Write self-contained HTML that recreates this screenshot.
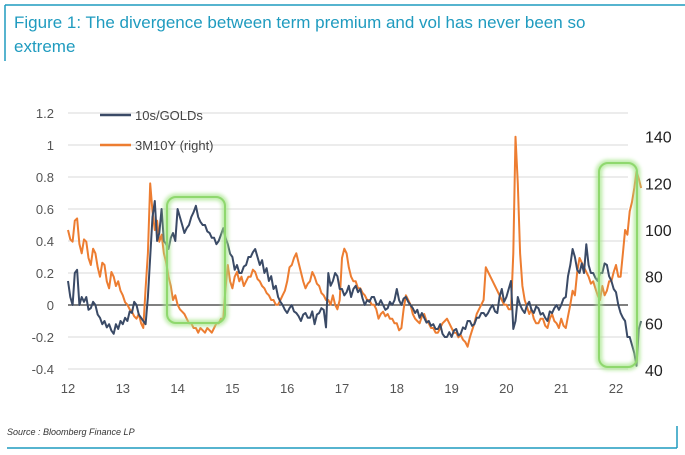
<!DOCTYPE html>
<html><head><meta charset="utf-8"><style>
body{margin:0;background:#fff;}
svg{display:block;font-family:"Liberation Sans",sans-serif;}
</style></head><body>
<svg width="685" height="455" viewBox="0 0 685 455">
<defs><filter id="glow" x="-30%" y="-30%" width="160%" height="160%"><feGaussianBlur stdDeviation="1.8"/></filter></defs>
<line x1="5" y1="5" x2="685" y2="5" stroke="#1f9bbf" stroke-width="1.5"/>
<line x1="5" y1="5" x2="5" y2="61" stroke="#1f9bbf" stroke-width="1.5"/>
<text x="14" y="28" font-size="17" fill="#1f9bbf">Figure 1: The divergence between term premium and vol has never been so</text>
<text x="14" y="52" font-size="17" fill="#1f9bbf">extreme</text>
<g id="grid"></g>
<g id="axes"></g>
<g id="series"></g>
<g>
<rect x="167" y="197" width="58" height="126" rx="9" fill="none" stroke="#a6e58a" stroke-width="7" opacity="0.7" filter="url(#glow)"/>
<rect x="167" y="197" width="58" height="126" rx="9" fill="none" stroke="#8fd86e" stroke-width="2"/>
</g>
<g>
<rect x="599" y="163" width="38" height="204" rx="9" fill="none" stroke="#a6e58a" stroke-width="7" opacity="0.7" filter="url(#glow)"/>
<rect x="599" y="163" width="38" height="204" rx="9" fill="none" stroke="#8fd86e" stroke-width="2"/>
</g>
<g>
<line x1="100" y1="115" x2="131" y2="115" stroke="#3a4a66" stroke-width="2.5"/>
<text x="135" y="120" font-size="13" fill="#444">10s/GOLDs</text>
<line x1="100" y1="145" x2="131" y2="145" stroke="#ed7d31" stroke-width="2.5"/>
<text x="135" y="150" font-size="13" fill="#444">3M10Y (right)</text>
</g>
<line x1="7" y1="448" x2="677" y2="448" stroke="#1f9bbf" stroke-width="1.5"/>
<line x1="677" y1="426" x2="677" y2="448" stroke="#1f9bbf" stroke-width="1.5"/>
<text x="7" y="435" font-size="9" font-style="italic" fill="#333">Source : Bloomberg Finance LP</text>
</svg>
<script>
const leftTicks=[1.2,1,0.8,0.6,0.4,0.2,0,-0.2,-0.4];
const leftTickLabels=["1.2","1","0.8","0.6","0.4","0.2","0","-0.2","-0.4"];
const rightTicks=[140,120,100,80,60,40];
const xTicks=[12,13,14,15,16,17,18,19,20,21,22];
const startYear=12;
const goldsValues=[0.15,0.05,0.0,0.2,0.22,0.0,0.05,0.02,0.05,-0.03,-0.02,0.02,0.0,-0.06,-0.08,-0.12,-0.1,-0.14,-0.12,-0.16,-0.18,-0.12,-0.15,-0.1,
-0.12,-0.08,-0.1,-0.04,-0.05,0.02,0.0,-0.06,-0.08,-0.1,-0.12,0.05,0.3,0.55,0.65,0.4,0.45,0.6,0.4,0.38,0.35,0.42,0.45,0.4,
0.6,0.55,0.5,0.45,0.48,0.5,0.55,0.58,0.62,0.55,0.52,0.5,0.5,0.46,0.45,0.42,0.42,0.38,0.4,0.44,0.48,0.42,0.38,0.32,
0.3,0.22,0.25,0.2,0.2,0.24,0.25,0.3,0.3,0.33,0.35,0.3,0.25,0.28,0.2,0.23,0.15,0.18,0.1,0.12,0.05,0.02,0.0,-0.03,
-0.05,-0.02,0.0,-0.04,-0.05,-0.07,-0.1,-0.06,-0.05,-0.08,-0.08,-0.04,-0.12,-0.06,-0.05,-0.02,-0.03,-0.14,0.2,0.12,0.15,0.2,0.18,0.1,
0.1,0.06,0.08,0.12,0.05,0.1,0.12,0.08,0.1,0.04,0.0,0.03,0.02,0.05,0.05,0.01,0.0,0.03,0.0,-0.03,-0.02,0.02,0.0,0.03,
0.1,0.03,0.0,0.04,0.05,0.02,0.0,-0.02,-0.05,-0.03,-0.08,-0.05,-0.08,-0.11,-0.1,-0.13,-0.12,-0.15,-0.15,-0.12,-0.18,-0.2,-0.2,-0.17,
-0.2,-0.16,-0.15,-0.19,-0.18,-0.14,-0.15,-0.1,-0.1,-0.13,-0.12,-0.08,-0.08,-0.05,-0.05,-0.07,-0.05,-0.02,0.0,-0.04,-0.05,0.05,0.1,0.02,
0.05,0.1,0.15,-0.15,-0.1,0.05,0.0,-0.03,-0.05,0.0,0.02,-0.03,-0.05,-0.01,-0.02,-0.06,-0.05,-0.08,-0.1,-0.04,-0.05,-0.02,0.0,-0.03,
0.0,0.04,0.05,0.18,0.25,0.35,0.3,0.22,0.2,0.26,0.2,0.38,0.25,0.2,0.2,0.17,0.15,0.2,0.2,0.26,0.25,0.18,0.15,0.1,
0.08,0.0,-0.05,-0.08,-0.1,-0.2,-0.2,-0.25,-0.3,-0.38,-0.15,-0.1];
const m3m10yValues=[100,96,95,104,105,94,90,96,95,88,85,92,90,84,80,86,85,78,75,82,80,76,78,74,
72,69,68,66,65,63,62,64,60,58,75,90,120,108,100,104,95,98,90,86,80,76,70,72,
68,66,65,64,62,60,60,58,58,56,58,57,56,58,57,56,58,60,60,62,62,75,85,78,
75,80,82,78,80,76,78,80,80,83,82,79,78,76,75,73,72,70,70,68,68,70,72,74,
78,84,85,88,90,86,82,78,75,77,78,82,80,77,76,73,72,70,70,68,72,68,66,70,
88,92,90,84,80,78,78,75,75,73,72,70,70,68,68,66,62,64,65,63,64,62,62,60,
60,57,58,66,72,70,68,64,62,61,60,63,64,61,60,58,58,56,56,58,60,61,62,60,
58,56,56,54,55,53,52,50,54,57,60,64,66,68,70,84,82,80,78,76,74,72,70,68,
68,66,66,90,140,120,90,76,70,67,64,66,62,60,60,62,62,59,58,62,64,61,60,58,
62,59,58,63,68,74,72,82,88,86,84,82,80,77,78,75,72,70,76,72,74,78,78,82,
85,80,80,90,100,98,108,112,118,125,122,118];
const X=t=>68+(t-12)*54.8;
const YL=v=>305-v*160;
const YR=v=>370-(v-40)*2.333;
const NS="http://www.w3.org/2000/svg";
function mk(tag,attrs,parent,txt){const e=document.createElementNS(NS,tag);for(const k in attrs)e.setAttribute(k,attrs[k]);if(txt!==undefined)e.textContent=txt;parent.appendChild(e);return e;}
const grid=document.getElementById('grid'),axes=document.getElementById('axes'),ser=document.getElementById('series');
leftTicks.forEach((v,i)=>{
 const g=mk('line',{x1:68,x2:628,y1:YL(v),y2:YL(v),stroke:v===0?'#000':'#d9d9d9','stroke-width':1},grid);
 
 
 const t=mk('text',{x:54,y:YL(v)+5,'font-size':13,fill:'#555','text-anchor':'end'},axes,leftTickLabels[i]);
 
 
});
rightTicks.forEach(v=>{
 const t=mk('text',{x:645,y:YR(v)+6,'font-size':16,fill:'#222'},axes,String(v));
 
 
});
xTicks.forEach(v=>{
 const t=mk('text',{x:X(v),y:393,'font-size':13,fill:'#555','text-anchor':'middle'},axes,String(v));
 
 
});
function path(vals,yf){return vals.map((v,i)=>(i?'L':'M')+X(startYear+i/24).toFixed(1)+','+yf(v).toFixed(1)).join('');}
const p2=mk('path',{d:path(m3m10yValues,YR),fill:'none',stroke:'#ed7d31','stroke-width':2,'stroke-linejoin':'round'},ser);


const p1=mk('path',{d:path(goldsValues,YL),fill:'none',stroke:'#3a4a66','stroke-width':2,'stroke-linejoin':'round'},ser);


</script>
</body></html>
